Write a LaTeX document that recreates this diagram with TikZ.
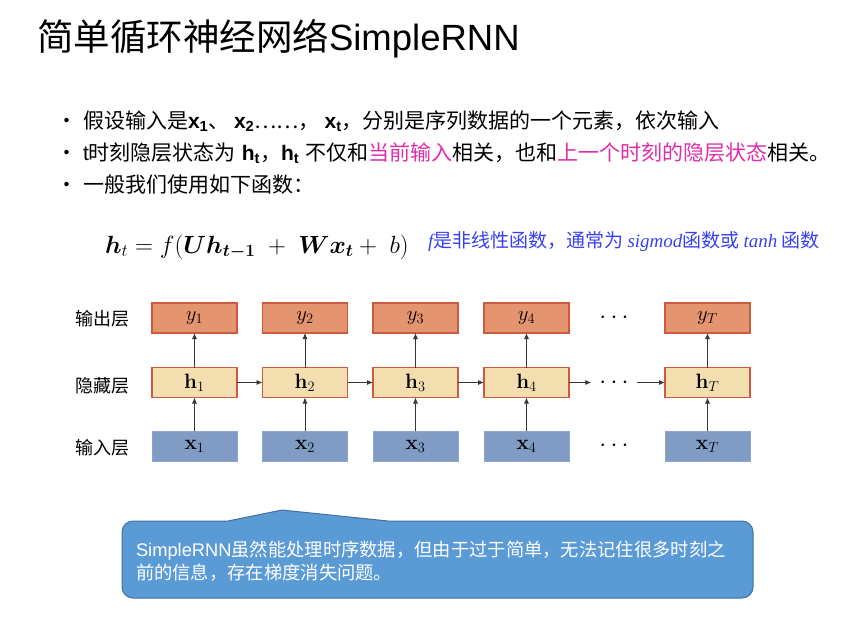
\documentclass[tikz,border=0pt]{standalone}
\usepackage[no-math]{fontspec}
\usepackage{bm}
\setmainfont{Noto Sans CJK SC}
\newfontfamily\lat{Liberation Sans}
\newfontfamily\tms{Liberation Serif}
\usetikzlibrary{arrows.meta}
\definecolor{mag}{RGB}{222,45,170}
\definecolor{eqblue}{RGB}{55,65,235}
\definecolor{outfill}{RGB}{228,148,110}
\definecolor{outline}{RGB}{205,90,62}
\definecolor{hidfill}{RGB}{243,222,176}
\definecolor{infill}{RGB}{128,155,196}
\definecolor{calfill}{RGB}{91,155,213}
\definecolor{caldraw}{RGB}{65,113,156}
\definecolor{arr}{RGB}{55,55,55}
\tikzset{
  txt/.style={anchor=base west, inner sep=0pt, outer sep=0pt},
  body/.style={font=\fontsize{21}{25}\selectfont},
  lab/.style={font=\fontsize{18}{22}\selectfont},
  cell/.style={minimum width=85pt, minimum height=30pt, inner sep=0pt, outer sep=0pt, font=\fontsize{21}{25}\selectfont},
  outbox/.style={cell, draw=outline, fill=outfill, line width=1.2pt},
  hidbox/.style={cell, draw=outline, fill=hidfill, line width=1.2pt},
  inbox/.style={cell, draw=infill!90!white, fill=infill, line width=0.6pt},
  dotnode/.style={inner sep=0pt, inner xsep=8pt, font=\fontsize{24}{28}\selectfont},
  link/.style={draw=arr, line width=0.8pt, -{Latex[length=6pt,width=5pt]}},
  callout/.style={fill=calfill, draw=caldraw, line width=1pt}
}
\begin{document}
\begin{tikzpicture}[x=1pt,y=-1pt]
\useasboundingbox (0,0) rectangle (856,635);

% title
\node[txt, font=\fontsize{36.5}{40}\selectfont] (title) at (37,50) {简单循环神经网络{\lat SimpleRNN}};

% bullets
\node[txt, body] (b1) at (56,128) {•};
\node[txt, body] (b2) at (56,160) {•};
\node[txt, body] (b3) at (56,192) {•};
\node[txt, body] (l1) at (83,128) {假设输入是{\lat\bfseries x\textsubscript{1}}、 {\lat\bfseries x\textsubscript{2}}……， {\lat\bfseries x\textsubscript{t}}，分别是序列数据的一个元素，依次输入};
\node[txt, body] (l2) at (83,160) {{\lat t}时刻隐层状态为\hspace{6pt}{\lat\bfseries h\textsubscript{t}}，{\lat\bfseries h\textsubscript{t}}\hspace{6pt}不仅和\textcolor{mag}{当前输入}相关，也和\textcolor{mag}{上一个时刻的隐层状态}相关。};
\node[txt, body] (l3) at (83,192) {一般我们使用如下函数：};

% formula
\node[txt, font=\fontsize{24.5}{28}\selectfont] (eq) at (105,253) {$\bm{h}_t = f(\bm{U}\bm{h}_{\bm{t-1}} \;+\; \bm{W}\bm{x}_{\bm{t}} +\; b)$};
\node[txt, font=\fontsize{19}{22}\selectfont, text=eqblue] (note) at (428,247) {{\tms\itshape f}是非线性函数，通常为 {\tms\itshape sigmod}函数或 {\tms\itshape tanh} 函数};

% row labels
\node[txt, lab] (lout) at (75,325) {输出层};
\node[txt, lab] (lhid) at (75,392) {隐藏层};
\node[txt, lab] (lin) at (75,454) {输入层};

% cells
\foreach \n/\cx/\s in {1/194.5/1, 2/305/2, 3/415.5/3, 4/526.5/4, T/707.5/T} {
  \node[outbox] (y\n) at (\cx,318) {$y_{\s}$};
  \node[hidbox] (h\n) at (\cx,382.5) {$\mathbf{h}_{\s}$};
  \node[inbox] (x\n) at (\cx,446) {$\mathbf{x}_{\s}$};
  \draw[link] (x\n) -- (h\n);
  \draw[link] (h\n) -- (y\n);
}
\node[dotnode] (dy) at (614,318) {$\cdots$};
\node[dotnode] (dh) at (614,382.5) {$\cdots$};
\node[dotnode] (dx) at (614,446) {$\cdots$};

\draw[link] (h1) -- (h2);
\draw[link] (h2) -- (h3);
\draw[link] (h3) -- (h4);
\draw[link] (h4) -- (dh);
\draw[link] (dh) -- (hT);

% callout
\draw[callout] (228,521) -- (282,510) -- (388,521) [rounded corners=11pt] -- (753,521) -- (753,598) -- (122,598) -- (122,521) [sharp corners] -- cycle;
\node[txt, align=left, text=white, font=\fontsize{18.3}{23}\selectfont] (ctext) at (136,579) {{\lat SimpleRNN}虽然能处理时序数据，但由于过于简单，无法记住很多时刻之\\前的信息，存在梯度消失问题。};
\end{tikzpicture}
\end{document}
